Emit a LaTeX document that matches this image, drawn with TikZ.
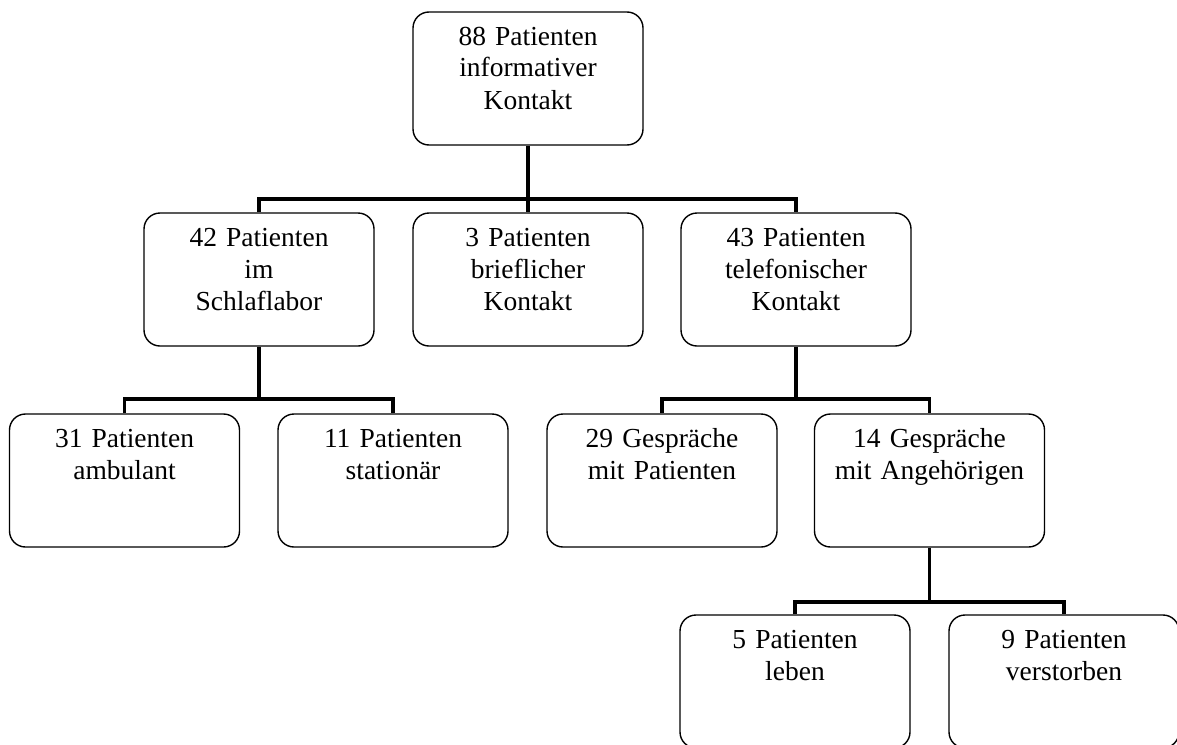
\documentclass[tikz,border=0pt]{standalone}
\usepackage{fontspec}
\setmainfont{Liberation Serif}
\usepackage{tikz}
\usetikzlibrary{positioning}

\begin{document}
\begin{tikzpicture}[x=1pt, y=-1pt,
		pbox/.style={draw=black, fill=white, rectangle, rounded corners=16pt, line width=1.4pt,
				minimum width=230pt, text width=226pt, inner xsep=2pt, inner ysep=0pt,
				text height=33pt, text depth=100pt, align=center,
				font=\fontsize{27.5pt}{32pt}\selectfont},
		conn/.style={line width=3.6pt},
	]
	\useasboundingbox (0,0) rectangle (1177,744);
	\node[pbox] (n88) at ( 528, 78.5) {88 Patienten\\informativer\\Kontakt};
	\node[pbox] (n42) at ( 259,279.5) {42 Patienten\\im\\Schlaflabor};
	\node[pbox] (n3)  at ( 528,279.5) {3 Patienten\\brieflicher\\Kontakt};
	\node[pbox] (n43) at ( 796,279.5) {43 Patienten\\telefonischer\\Kontakt};
	\coordinate (j1) at (528,199);
	\draw[conn] (n88) -- (n3);
	\draw[conn] (n42.north) |- (j1) -| (n43.north);
	\node[pbox] (n31) at (124.5,480.5) {31 Patienten\\ambulant};
	\node[pbox] (n11) at ( 393,480.5) {11 Patienten\\stationär};
	\node[pbox] (n29) at ( 662,480.5) {29 Gespräche\\mit Patienten};
	\node[pbox] (n14) at (929.5,480.5) {14 Gespräche\\mit Angehörigen};
	\coordinate (j2) at (259,399);
	\coordinate (j3) at (796,399);
	\draw[conn] (n42) -- (j2);
	\draw[conn] (n31.north) |- (j2) -| (n11.north);
	\draw[conn] (n43) -- (j3);
	\draw[conn] (n29.north) |- (j3) -| (n14.north);
	\node[pbox] (n5) at ( 795,681.5) {5 Patienten\\leben};
	\node[pbox] (n9) at (1064,681.5) {9 Patienten\\verstorben};
	\coordinate (j4) at (929.5,602);
	\draw[conn] (n14) -- (j4);
	\draw[conn] (n5.north) |- (j4) -| (n9.north);
\end{tikzpicture}
\end{document}
